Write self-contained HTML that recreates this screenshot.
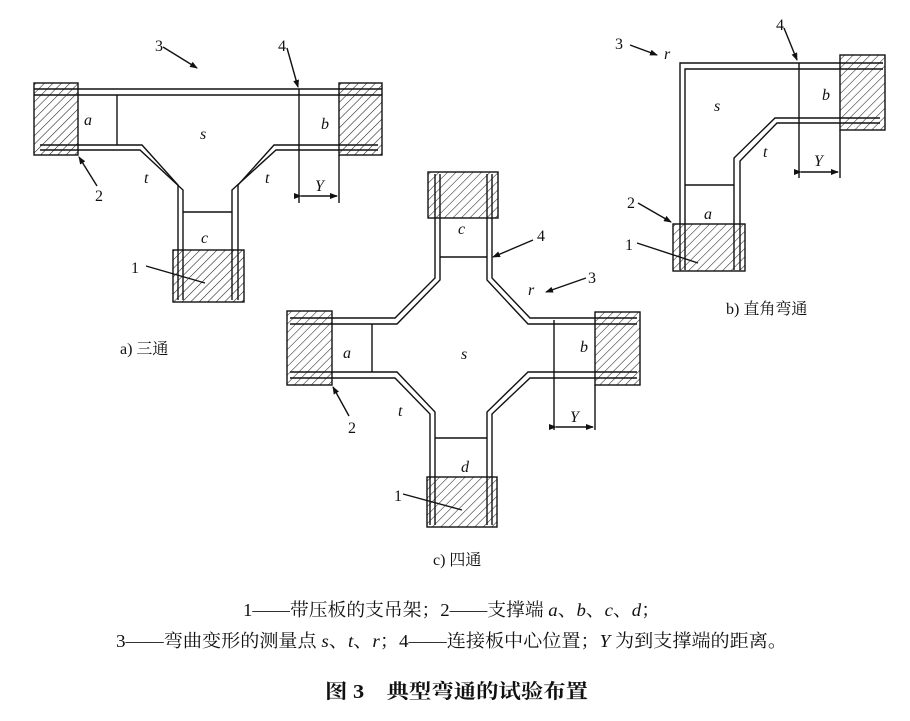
<!DOCTYPE html>
<html><head><meta charset="utf-8"><style>
html,body{margin:0;padding:0;background:#fff;}
svg{display:block;}
text{font-family:"Liberation Serif","Noto Serif CJK SC",serif;fill:#111;}
.it{font-style:italic;}
</style></head><body>
<svg width="910" height="721" viewBox="0 0 910 721" xmlns="http://www.w3.org/2000/svg">
<defs>
<pattern id="h" patternUnits="userSpaceOnUse" width="6" height="6" patternTransform="rotate(45)">
<line x1="0" y1="0" x2="0" y2="6" stroke="#222" stroke-width="1.1"/>
</pattern>
<marker id="ar" markerWidth="8" markerHeight="6" refX="7" refY="3" orient="auto" markerUnits="userSpaceOnUse">
<path d="M0,0 L8,3 L0,6 z" fill="#111"/>
</marker>
</defs>
<g fill="none" stroke="#111" stroke-width="1.4">
<rect x="34" y="83" width="44" height="72" fill="url(#h)"/>
<rect x="339" y="83" width="43" height="72" fill="url(#h)"/>
<rect x="173" y="250" width="71" height="52" fill="url(#h)"/>
<line x1="34" y1="89" x2="382" y2="89"/>
<line x1="34" y1="95" x2="382" y2="95"/>
<polyline points="40,145 142,145 178,185 178,300"/>
<polyline points="40,150 140,150 183,190 183,300"/>
<polyline points="378,145 274,145 238,185 238,300"/>
<polyline points="378,150 276,150 232,190 232,300"/>
<line x1="117" y1="95" x2="117" y2="145"/>
<line x1="299" y1="89" x2="299" y2="203"/>
<line x1="339" y1="155" x2="339" y2="203"/>
<line x1="183" y1="212" x2="232" y2="212"/>
<line x1="301" y1="196" x2="337" y2="196" marker-end="url(#ar)" marker-start="url(#ar)"/>
<line x1="163" y1="47" x2="197" y2="68" marker-end="url(#ar)"/>
<line x1="287" y1="48" x2="298" y2="87" marker-end="url(#ar)"/>
<line x1="97" y1="186" x2="79" y2="157" marker-end="url(#ar)"/>
<line x1="146" y1="266" x2="205" y2="283"/>

<rect x="428" y="172" width="70" height="46" fill="url(#h)"/>
<rect x="427" y="477" width="70" height="50" fill="url(#h)"/>
<rect x="287" y="311" width="45" height="74" fill="url(#h)"/>
<rect x="595" y="312" width="45" height="73" fill="url(#h)"/>
<polyline points="435,174 435,278 395,318 290,318"/>
<polyline points="440,174 440,280 397,324 290,324"/>
<polyline points="492,174 492,278 530,318 637,318"/>
<polyline points="487,174 487,280 528,324 637,324"/>
<polyline points="290,372 397,372 435,412 435,525"/>
<polyline points="290,378 395,378 430,414 430,525"/>
<polyline points="637,372 528,372 487,412 487,525"/>
<polyline points="637,378 530,378 492,414 492,525"/>
<line x1="440" y1="257" x2="487" y2="257"/>
<line x1="435" y1="438" x2="487" y2="438"/>
<line x1="372" y1="324" x2="372" y2="372"/>
<line x1="554" y1="320" x2="554" y2="430"/>
<line x1="595" y1="385" x2="595" y2="430"/>
<line x1="556" y1="427" x2="593" y2="427" marker-end="url(#ar)" marker-start="url(#ar)"/>
<line x1="533" y1="240" x2="493" y2="257" marker-end="url(#ar)"/>
<line x1="586" y1="278" x2="546" y2="292" marker-end="url(#ar)"/>
<line x1="349" y1="416" x2="333" y2="387" marker-end="url(#ar)"/>
<line x1="403" y1="494" x2="462" y2="510"/>

<rect x="840" y="55" width="45" height="75" fill="url(#h)"/>
<rect x="673" y="224" width="72" height="47" fill="url(#h)"/>
<polyline points="883,63 680,63 680,270"/>
<polyline points="883,69 685,69 685,270"/>
<polyline points="880,118 775,118 734,158 734,270"/>
<polyline points="880,123 777,123 740,161 740,270"/>
<line x1="799" y1="63" x2="799" y2="178"/>
<line x1="840" y1="130" x2="840" y2="178"/>
<line x1="685" y1="185" x2="734" y2="185"/>
<line x1="801" y1="172" x2="838" y2="172" marker-end="url(#ar)" marker-start="url(#ar)"/>
<line x1="630" y1="45" x2="657" y2="55" marker-end="url(#ar)"/>
<line x1="784" y1="28" x2="797" y2="60" marker-end="url(#ar)"/>
<line x1="638" y1="203" x2="671" y2="222" marker-end="url(#ar)"/>
<line x1="637" y1="243" x2="698" y2="263"/>
</g>
<g font-size="16">
<text x="155" y="51">3</text>
<text x="278" y="51">4</text>
<text x="95" y="201">2</text>
<text x="131" y="273">1</text>
<text class="it" x="84" y="125">a</text>
<text class="it" x="200" y="139">s</text>
<text class="it" x="321" y="129">b</text>
<text class="it" x="144" y="183">t</text>
<text class="it" x="265" y="183">t</text>
<text class="it" x="201" y="243">c</text>
<text class="it" x="315" y="191">Y</text>
<text x="120" y="354">a) 三通</text>
<text class="it" x="458" y="234">c</text>
<text x="537" y="241">4</text>
<text class="it" x="528" y="295">r</text>
<text x="588" y="283">3</text>
<text class="it" x="343" y="358">a</text>
<text class="it" x="461" y="359">s</text>
<text class="it" x="580" y="352">b</text>
<text class="it" x="398" y="416">t</text>
<text class="it" x="570" y="422">Y</text>
<text x="348" y="433">2</text>
<text class="it" x="461" y="472">d</text>
<text x="394" y="501">1</text>
<text x="433" y="565">c) 四通</text>
<text x="615" y="49">3</text>
<text class="it" x="664" y="59">r</text>
<text x="776" y="30">4</text>
<text class="it" x="714" y="111">s</text>
<text class="it" x="822" y="100">b</text>
<text class="it" x="763" y="157">t</text>
<text class="it" x="814" y="166">Y</text>
<text x="627" y="208">2</text>
<text class="it" x="704" y="219">a</text>
<text x="625" y="250">1</text>
<text x="726" y="314">b) 直角弯通</text>
</g>
<g font-size="18">
<text x="243" y="616" textLength="417" lengthAdjust="spacingAndGlyphs">1——带压板的支吊架；2——支撑端 <tspan class="it">a</tspan>、<tspan class="it">b</tspan>、<tspan class="it">c</tspan>、<tspan class="it">d</tspan>；</text>
<text x="116" y="647" textLength="671" lengthAdjust="spacingAndGlyphs">3——弯曲变形的测量点 <tspan class="it">s</tspan>、<tspan class="it">t</tspan>、<tspan class="it">r</tspan>；4——连接板中心位置；<tspan class="it">Y</tspan> 为到支撑端的距离。</text>
</g>
<text x="325" y="698" font-size="20" font-weight="bold" textLength="263" lengthAdjust="spacingAndGlyphs" font-family="Liberation Sans,Noto Sans CJK SC,sans-serif">图 3　典型弯通的试验布置</text>
</svg>
</body></html>
